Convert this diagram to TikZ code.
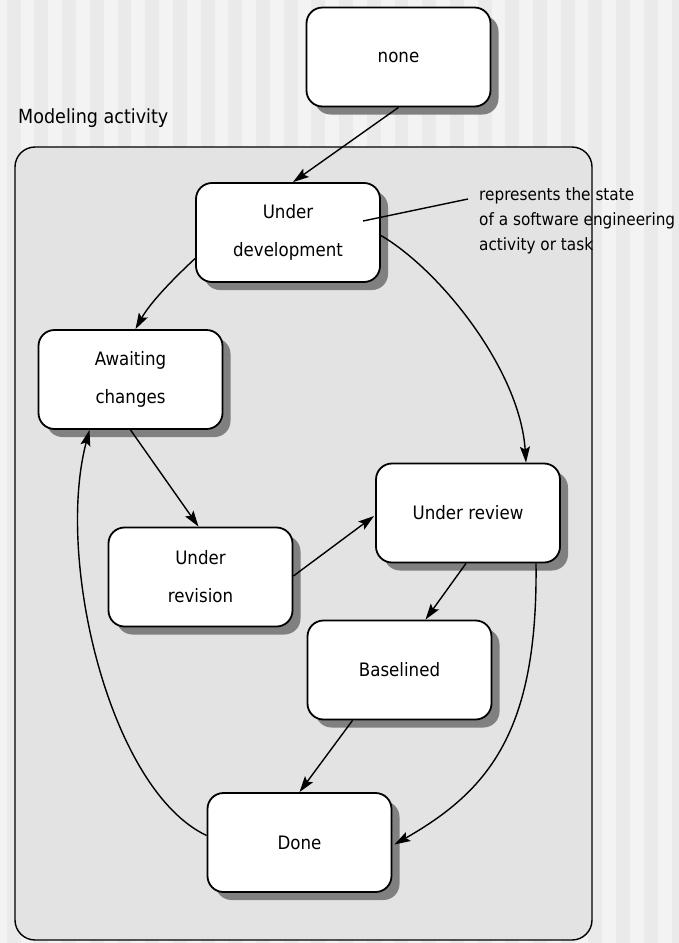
\documentclass[tikz,border=0pt]{standalone}
\usepackage{fontspec}
\setmainfont{DejaVu Sans}[FakeStretch=0.9]
\usetikzlibrary{arrows.meta,calc,shadows}

\definecolor{stripelight}{HTML}{F3F3F3}
\definecolor{stripedark}{HTML}{EAEAEA}
\definecolor{regionfill}{HTML}{E3E3E3}

\begin{document}
\begin{tikzpicture}[
  x=1pt, y=-1pt,
  state/.style={draw, line width=1.8pt, fill=white, rounded corners=16pt,
    minimum width=184pt, minimum height=99pt, inner sep=0pt, align=center,
    font=\fontsize{18.5}{38}\selectfont,
    drop shadow={shadow xshift=8pt, shadow yshift=-8pt, fill=black!50, opacity=1}},
  trans/.style={line width=1.4pt, -{Stealth[length=16pt, width=10pt, inset=3pt]}},
  note/.style={align=left, inner sep=0pt, font=\fontsize{17}{25}\selectfont}
]
  \useasboundingbox (0,0) rectangle (678,943);

  % striped background
  \fill[stripelight] (0,0) rectangle (678,943);
  \foreach \k in {0,...,24}
    \fill[stripedark] ({6.7+27.7*\k},0) rectangle +(13.9,943);

  % the modeling activity region
  \fill[regionfill, rounded corners=20pt] (15,147) rectangle (592,940);
  \node[anchor=west, inner sep=0pt, font=\fontsize{19.5}{22}\selectfont] (title) at (18,118) {Modeling activity};
  \node[note, anchor=north west] (notetext) at (479,187)
    {represents the state\\of a software engineering\\activity or task};
  \draw[line width=1.4pt, rounded corners=20pt] (15,147) rectangle (592,940);

  % states
  \node[state] (none)   at (398.5,57)  {none};
  \node[state] (dev)    at (288,232.5) {Under\\development};
  \node[state] (await)  at (130.5,379.5) {Awaiting\\changes};
  \node[state] (revis)  at (200.5,577) {Under\\revision};
  \node[state] (review) at (468,513)   {Under review};
  \node[state] (base)   at (399.5,670) {Baselined};
  \node[state] (done)   at (299.5,842.5) {Done};

  % note connector
  \coordinate (notept) at (363,221);
  \coordinate (noteend) at (468,199);
  \draw[line width=1.4pt] (notept) -- (noteend);

  % transitions
  \draw[trans] (none.south) -- ($(dev.north)+(5,0)$);
  \draw[trans] ($(dev.west)+(0,26)$) .. controls (172,280) and (150,303) .. ($(await.north)+(5,0)$);
  \draw[trans] ($(dev.east)+(0,3)$) .. controls (440,270) and (520,370) .. ($(review.north)+(58,0)$);
  \draw[trans] (await.south) -- ($(revis.north)+(-2,0)$);
  \draw[trans] ($(revis.east)+(0,-1)$) -- ($(review.west)+(-1,3)$);
  \draw[trans] ($(review.south)+(-2,0)$) -- ($(base.north)+(26,0)$);
  \draw[trans] ($(base.south)+(-47,0)$) -- (done.north);
  \draw[trans] ($(review.south)+(68,0)$) .. controls (538,730) and (490,790) .. ($(done.east)+(2,2)$);
  \draw[trans] ($(done.west)+(0,-7)$) .. controls (110,790) and (55,560) .. ($(await.south)+(-41,0)$);
\end{tikzpicture}
\end{document}
